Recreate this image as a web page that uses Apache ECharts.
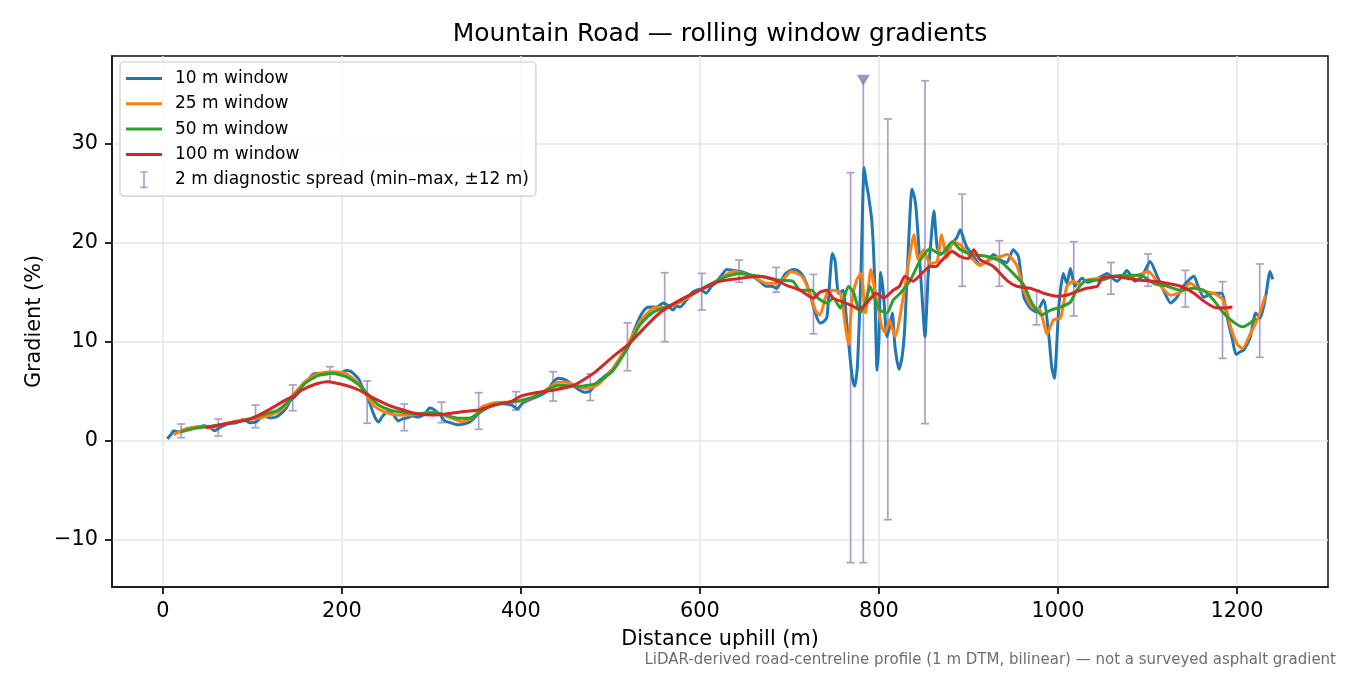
<!DOCTYPE html>
<html>
<head>
<meta charset="utf-8">
<title>Mountain Road — rolling window gradients</title>
<script src="https://cdn.jsdelivr.net/npm/echarts@6/dist/echarts.min.js"></script>
<style>
  html, body { margin: 0; padding: 0; background: #fff; }
  #chart { width: 1350px; height: 675px; }
</style>
</head>
<body>
<div id="chart"></div>
<script>
// distance uphill (m) / gradient (%) for each rolling window
const dist10 = [
  5, 9, 12, 17, 21, 26, 32, 40, 46, 53,
  58, 63, 70, 75, 82, 90, 97, 104, 112, 120,
  127, 133, 138, 142, 147, 152, 157, 162, 168, 174,
  180, 187, 194, 200, 205, 210, 214, 219, 223, 228,
  232, 235, 238, 241, 245, 249, 253, 258, 263, 268,
  273, 279, 286, 293, 298, 302, 306, 310, 315, 322,
  330, 337, 343, 348, 353, 360, 368, 376, 383, 390,
  396, 402, 409, 414, 422, 429, 436, 442, 451, 458,
  466, 471, 477, 483, 488, 495, 503, 511, 520, 526,
  533, 540, 546, 552, 559, 565, 570, 574, 578, 585,
  592, 600, 607, 613, 619, 625, 630, 637, 645, 652,
  659, 667, 674, 680, 686, 691, 696, 704, 709, 714,
  719, 723, 729, 734, 738, 742, 745, 748, 751, 755,
  760, 764, 768, 771, 773, 776, 780, 783.5, 786, 788,
  792, 795, 798, 800, 802, 805, 809, 812, 815, 818,
  822.5, 826, 829, 833, 837, 840, 842, 845, 848, 851.5,
  855, 858, 861.5, 865, 869, 876, 883, 887, 891, 895,
  898, 906, 913, 921, 928, 935, 943, 950, 956, 962,
  969, 976, 984, 990, 993, 996, 1001, 1006, 1010, 1014,
  1019, 1027, 1033, 1040, 1047, 1055, 1060, 1066, 1072, 1077,
  1082, 1086, 1094, 1103, 1111, 1118, 1126, 1133, 1140, 1146,
  1152, 1157, 1163, 1168, 1174, 1183, 1189, 1195, 1199, 1204,
  1208, 1215, 1221, 1226, 1232, 1237, 1240
];
const grad10 = [
  0.2, 0.6, 1.0, 0.9, 0.9, 1.2, 1.3, 1.4, 1.5, 1.3,
  1.0, 1.3, 1.6, 1.75, 1.8, 2.15, 1.8, 1.9, 2.5, 2.3,
  2.4, 2.8, 3.3, 4.0, 4.4, 4.9, 5.7, 6.1, 6.7, 6.8,
  6.7, 6.8, 6.9, 6.9, 7.1, 7.0, 6.7, 6.2, 5.4, 4.6,
  3.6, 2.8, 2.2, 1.9, 2.4, 2.8, 3.0, 2.6, 2.0, 2.2,
  2.3, 2.5, 2.4, 2.7, 3.3, 3.2, 2.9, 2.6, 2.0, 1.8,
  1.6, 1.7, 1.9, 2.3, 2.8, 3.3, 3.6, 3.8, 3.7, 3.6,
  3.2, 3.8, 4.1, 4.3, 4.6, 5.0, 5.9, 6.3, 6.1, 5.6,
  5.1, 4.9, 5.0, 5.6, 6.1, 6.6, 7.3, 8.3, 9.5, 11.0,
  12.5, 13.4, 13.5, 13.5, 13.9, 13.6, 13.2, 13.6, 13.5, 14.2,
  15.0, 15.3, 14.9, 15.6, 16.1, 16.8, 17.3, 17.2, 17.1, 16.9,
  16.6, 16.1, 15.6, 15.6, 15.4, 16.2, 16.9, 17.3, 17.2, 16.8,
  15.9, 14.8, 12.9, 11.9, 12.0, 12.5, 16.0, 18.9, 18.2, 14.9,
  15.2, 12.0, 8.2, 6.0, 5.5, 7.5, 17.0, 27.6, 26.0, 25.0,
  22.3, 17.0, 7.1, 10.0, 17.0, 15.0, 10.5, 11.5, 12.9, 9.5,
  7.2, 8.5, 11.6, 19.6, 25.4, 24.5, 23.0, 19.0, 14.9, 10.5,
  16.6, 20.0, 23.2, 19.6, 18.9, 19.1, 20.1, 20.5, 21.3, 20.3,
  19.6, 18.6, 17.8, 18.1, 18.8, 18.3, 18.0, 19.3, 18.6, 14.5,
  13.4, 13.0, 14.2, 10.5, 7.5, 6.3, 13.5, 16.9, 15.9, 17.4,
  15.6, 16.4, 16.0, 16.2, 16.5, 16.9, 16.5, 16.1, 16.6, 17.2,
  16.6, 16.1, 16.6, 18.1, 16.6, 15.2, 13.9, 14.5, 15.6, 16.2,
  16.6, 15.5, 14.5, 14.7, 14.9, 14.9, 12.5, 10.2, 8.7, 9.0,
  9.2, 10.5, 12.9, 12.4, 14.5, 17.1, 16.3
];

const dist25 = [
  12, 18, 25, 40, 55, 73, 92, 111, 129, 137,
  144, 152, 159, 167, 174, 189, 204, 215, 221, 226,
  232, 237, 248, 263, 278, 293, 308, 316, 323, 334,
  345, 351, 357, 371, 390, 405, 414, 429, 442, 451,
  466, 477, 488, 503, 520, 533, 548, 563, 578, 600,
  619, 637, 659, 667, 674, 686, 695, 702, 714, 723,
  729, 734, 742, 749, 757, 762, 766, 770, 775, 780,
  785, 791, 796, 803, 807, 812, 818, 828, 834, 839,
  844, 850, 857, 865, 870, 876, 883, 891, 906, 913,
  921, 928, 936, 943, 954, 962, 971, 980, 988, 995,
  1003, 1010, 1017, 1025, 1032, 1047, 1066, 1085, 1101, 1114,
  1126, 1137, 1148, 1159, 1174, 1185, 1193, 1200, 1206, 1215,
  1224, 1232
];
const grad25 = [
  0.6, 0.9, 1.15, 1.42, 1.35, 1.8, 2.15, 2.35, 2.9, 3.5,
  4.45, 5.3, 5.96, 6.5, 6.8, 6.97, 6.8, 6.1, 5.5, 4.8,
  4.0, 3.44, 2.9, 2.6, 2.6, 2.8, 2.8, 2.5, 2.26, 1.92,
  2.26, 2.8, 3.44, 3.84, 3.9, 4.1, 4.4, 5.2, 5.9, 5.9,
  5.4, 5.3, 5.8, 7.3, 9.8, 12.0, 13.4, 13.5, 14.0, 15.2,
  16.1, 17.1, 16.6, 16.2, 15.9, 15.9, 16.5, 17.1, 16.6, 14.9,
  13.2, 12.7, 14.9, 15.2, 14.9, 11.9, 9.7, 14.2, 16.2, 16.9,
  12.9, 17.3, 14.9, 11.6, 10.9, 12.2, 10.5, 14.9, 18.5, 20.8,
  18.3, 19.3, 17.9, 18.1, 20.8, 18.5, 20.1, 19.8, 18.2, 17.7,
  18.2, 18.4, 18.6, 18.8, 17.7, 15.2, 13.5, 13.2, 10.8, 12.2,
  12.4, 15.6, 16.1, 15.8, 16.2, 16.4, 16.6, 16.6, 17.1, 15.7,
  14.7, 15.0, 15.9, 15.2, 14.9, 14.2, 11.5, 9.8, 9.3, 10.8,
  12.5, 14.7
];

const dist50 = [
  20, 36, 55, 73, 92, 111, 129, 146, 159, 174,
  189, 204, 219, 230, 241, 256, 271, 286, 301, 316,
  330, 342, 353, 368, 390, 414, 442, 466, 484, 503,
  520, 533, 548, 563, 585, 607, 630, 645, 667, 689,
  704, 712, 725, 732, 742, 749, 757, 766, 772, 779,
  785, 790, 796, 801, 809, 816, 824, 835, 846, 857,
  869, 882, 891, 906, 921, 936, 950, 962, 971, 982,
  992, 1003, 1014, 1021, 1032, 1047, 1062, 1077, 1092, 1107,
  1122, 1137, 1152, 1163, 1174, 1185, 1196, 1206, 1215, 1221
];
const grad50 = [
  0.9, 1.25, 1.49, 1.76, 2.09, 2.6, 3.1, 4.45, 5.8, 6.6,
  6.8, 6.5, 5.63, 4.6, 3.6, 3.04, 2.84, 2.7, 2.84, 2.6,
  2.26, 2.26, 2.76, 3.6, 3.9, 4.4, 5.6, 5.5, 5.8, 7.1,
  9.5, 11.7, 13.0, 13.5, 14.5, 15.6, 16.6, 16.9, 16.6, 16.2,
  16.1, 15.2, 15.2, 14.4, 13.9, 14.4, 13.4, 15.6, 14.9, 12.9,
  13.9, 15.6, 14.2, 13.2, 12.9, 14.2, 14.9, 16.2, 18.2, 19.4,
  18.8, 20.1, 19.3, 18.8, 18.6, 18.1, 16.9, 15.7, 13.9, 12.7,
  13.2, 13.5, 14.0, 15.2, 16.2, 16.2, 16.6, 16.7, 16.7, 15.9,
  15.6, 15.2, 15.4, 15.2, 14.2, 12.9, 12.0, 11.5, 11.9, 12.4
];

const dist100 = [
  48, 73, 97, 118, 137, 146, 155, 170, 184, 204,
  219, 234, 252, 271, 286, 301, 316, 334, 353, 371,
  390, 400, 414, 436, 459, 481, 503, 520, 537, 555,
  578, 600, 622, 645, 667, 682, 697, 712, 727, 734,
  742, 749, 760, 771, 777, 783, 794, 797, 805, 816,
  823, 829, 838, 849, 857, 864, 869, 882, 891, 900,
  906, 913, 928, 943, 954, 969, 984, 999, 1010, 1019,
  1032, 1044, 1049, 1062, 1077, 1092, 1107, 1122, 1137, 1152,
  1163, 1174, 1185, 1195
];
const grad100 = [
  1.3, 1.76, 2.15, 3.1, 4.1, 4.5, 5.1, 5.7, 5.96, 5.6,
  5.12, 4.38, 3.6, 3.04, 2.7, 2.6, 2.7, 2.93, 3.1, 3.6,
  4.0, 4.5, 4.8, 5.1, 5.6, 6.8, 8.5, 9.7, 11.3, 12.9,
  14.2, 15.2, 16.1, 16.4, 16.6, 16.3, 15.7, 15.2, 14.4, 15.0,
  15.2, 14.4, 14.0, 13.6, 13.3, 13.6, 14.7, 14.9, 14.4, 15.2,
  15.6, 16.6, 16.1, 17.0, 17.6, 17.6, 18.1, 19.1, 18.6, 18.4,
  19.3, 18.3, 17.6, 16.2, 15.6, 15.4, 14.9, 14.6, 14.7, 15.0,
  15.4, 15.6, 16.4, 16.6, 16.4, 16.2, 16.1, 15.9, 15.6, 14.9,
  14.1, 13.5, 13.4, 13.5
];

// 2 m diagnostic spread (min / max within ±12 m)
const spreadDist = [
  20.5, 62, 103.6, 145.2, 186.7, 228.3, 269.8, 311.4, 352.9, 394.5,
  436, 477.6, 519.1, 560.7, 602.2, 643.8, 685.3, 726.9, 768.4, 810,
  851.5, 893.1, 934.6, 976.2, 1017.7, 1059.3, 1100.8, 1142.4, 1183.9, 1225.5
];
const spreadLow = [
  0.30, 0.47, 1.31, 3.03, 5.96, 1.76, 1.01, 1.82, 1.15, 3.1,
  4.0, 4.06, 7.07, 10.0, 13.2, 16.0, 15.0, 10.8, -12.32, -7.98,
  1.72, 15.6, 15.6, 11.7, 12.6, 14.8, 15.6, 13.5, 8.32, 8.42
];
const spreadHigh = [
  1.69, 2.19, 3.6, 5.63, 7.47, 6.03, 3.7, 3.9, 4.85, 4.95,
  6.97, 6.74, 11.9, 16.97, 16.9, 18.25, 17.5, 16.8, 27.07, 32.5,
  36.36, 24.9, 20.2, 15.2, 20.1, 18.0, 18.86, 17.2, 16.06, 17.85
];

// steepest point marker
const peakDist = [782.6];
const peakLow = [-12.32];
const peakTop = [36.4];

const xTicks = [0, 200, 400, 600, 800, 1000, 1200];
const yTicks = [-10, 0, 10, 20, 30];

const X_MIN = -56.75, X_MAX = 1301.75;
const Y_MIN = -14.78, Y_MAX = 38.86;

const FONT = '"DejaVu Sans", "Liberation Sans", sans-serif';
const spreadColor = '#ab9fca';
const zip = (xs, ys) => xs.map((x, i) => [x, ys[i]]);

function lineSeries(name, color, xs, ys, z) {
  return {
    name: name,
    type: 'line',
    data: zip(xs, ys),
    symbol: 'none',
    smooth: 0.2,
    clip: true,
    color: color,
    lineStyle: { width: 3, color: color },
    z: z,
    animation: false
  };
}

// vertical bar with caps, positioned through the axes' scales
function errorBar(capTop) {
  return function (params, api) {
    const x = api.value(0);
    const lo = api.coord([x, api.value(1)]);
    const hi = api.coord([x, api.value(2)]);
    const cap = 4;
    const style = { stroke: spreadColor, lineWidth: 1.7, fill: null };
    const kids = [
      { type: 'line', shape: { x1: lo[0], y1: lo[1], x2: hi[0], y2: hi[1] }, style: style },
      { type: 'line', shape: { x1: lo[0] - cap, y1: lo[1], x2: lo[0] + cap, y2: lo[1] }, style: style }
    ];
    if (capTop) {
      kids.push({ type: 'line', shape: { x1: hi[0] - cap, y1: hi[1], x2: hi[0] + cap, y2: hi[1] }, style: style });
    }
    return { type: 'group', children: kids };
  };
}

const lineIcon = 'path://M0,0h36v3h-36z';
const barIcon = 'path://M0,0h7v1.6h-2.7v13.8h2.7v1.6h-7v-1.6h2.7v-13.8h-2.7z';
const tickText = v => (v < 0 ? '\u2212' + Math.abs(v) : String(v));
const spine = { show: true, onZero: false, lineStyle: { color: '#111', width: 1.5 } };

const chart = echarts.init(document.getElementById('chart'), null, { renderer: 'canvas' });

chart.setOption({
  backgroundColor: '#fff',
  animation: false,
  textStyle: { fontFamily: FONT },
  grid: {
    left: 112, right: 22, top: 56, bottom: 88,
    show: true, borderColor: '#111', borderWidth: 1.5, backgroundColor: 'transparent'
  },
  xAxis: {
    type: 'value',
    min: X_MIN,
    max: X_MAX,
    axisLine: spine,
    axisTick: { show: true, inside: false, length: 7, customValues: xTicks, lineStyle: { color: '#111', width: 1.8 } },
    axisLabel: { customValues: xTicks, margin: 14, color: '#000', fontSize: 20.8, fontFamily: FONT, formatter: tickText },
    splitLine: { show: true, lineStyle: { color: '#e6e6e6', width: 1.5 } }
  },
  yAxis: {
    type: 'value',
    min: Y_MIN,
    max: Y_MAX,
    axisLine: spine,
    axisTick: { show: true, inside: false, length: 7, customValues: yTicks, lineStyle: { color: '#111', width: 1.8 } },
    axisLabel: { customValues: yTicks, margin: 14, color: '#000', fontSize: 20.8, fontFamily: FONT, formatter: tickText },
    splitLine: { show: true, lineStyle: { color: '#e6e6e6', width: 1.5 } }
  },
  legend: {
    left: 120,
    top: 62,
    orient: 'vertical',
    padding: [8, 7, 8, 6],
    itemWidth: 36,
    itemHeight: 17,
    itemGap: 8.3,
    selectedMode: false,
    borderColor: '#cccccc',
    borderWidth: 1.2,
    borderRadius: 4,
    backgroundColor: 'rgba(255,255,255,0.8)',
    textStyle: { fontFamily: FONT, fontSize: 17, color: '#000', padding: [0, 0, 0, 8] },
    data: [
      { name: '10 m window', icon: lineIcon },
      { name: '25 m window', icon: lineIcon },
      { name: '50 m window', icon: lineIcon },
      { name: '100 m window', icon: lineIcon },
      { name: '2 m diagnostic spread (min\u2013max, \u00b112 m)', icon: barIcon }
    ],
    z: 10
  },
  graphic: [
    {
      type: 'text', x: 720, y: 34,
      style: { text: 'Mountain Road \u2014 rolling window gradients', font: '25px ' + FONT, fill: '#000', align: 'center', verticalAlign: 'middle' }
    },
    {
      type: 'text', x: 720, y: 640,
      style: { text: 'Distance uphill (m)', font: '20.8px ' + FONT, fill: '#000', align: 'center', verticalAlign: 'middle' }
    },
    {
      type: 'text', x: 35, y: 321.5, rotation: Math.PI / 2,
      style: { text: 'Gradient (%)', font: '20.8px ' + FONT, fill: '#000', align: 'center', verticalAlign: 'middle' }
    },
    {
      type: 'text', x: 1336, y: 660,
      style: { text: 'LiDAR-derived road-centreline profile (1 m DTM, bilinear) \u2014 not a surveyed asphalt gradient', font: '15px ' + FONT, fill: '#6e6e6e', align: 'right', verticalAlign: 'middle' }
    }
  ],
  series: [
    {
      name: '2 m diagnostic spread (min\u2013max, \u00b112 m)',
      type: 'custom',
      data: spreadDist.map((d, i) => [d, spreadLow[i], spreadHigh[i]]),
      encode: { x: 0, y: [1, 2] },
      renderItem: errorBar(true),
      itemStyle: { color: spreadColor },
      z: 1,
      animation: false
    },
    {
      name: 'peak',
      type: 'custom',
      data: peakDist.map((d, i) => [d, peakLow[i], peakTop[i]]),
      encode: { x: 0, y: [1, 2] },
      renderItem: errorBar(false),
      itemStyle: { color: spreadColor },
      z: 1,
      animation: false
    },
    lineSeries('10 m window', '#1f77b4', dist10, grad10, 2),
    lineSeries('25 m window', '#ff7f0e', dist25, grad25, 3),
    lineSeries('50 m window', '#2ca02c', dist50, grad50, 4),
    lineSeries('100 m window', '#d62728', dist100, grad100, 5),
    {
      name: 'peak marker',
      type: 'scatter',
      data: zip(peakDist, peakTop),
      symbol: 'triangle',
      symbolRotate: 180,
      symbolSize: [13, 11],
      itemStyle: { color: '#8279ab' },
      z: 6,
      animation: false
    }
  ]
});
</script>
</body>
</html>
